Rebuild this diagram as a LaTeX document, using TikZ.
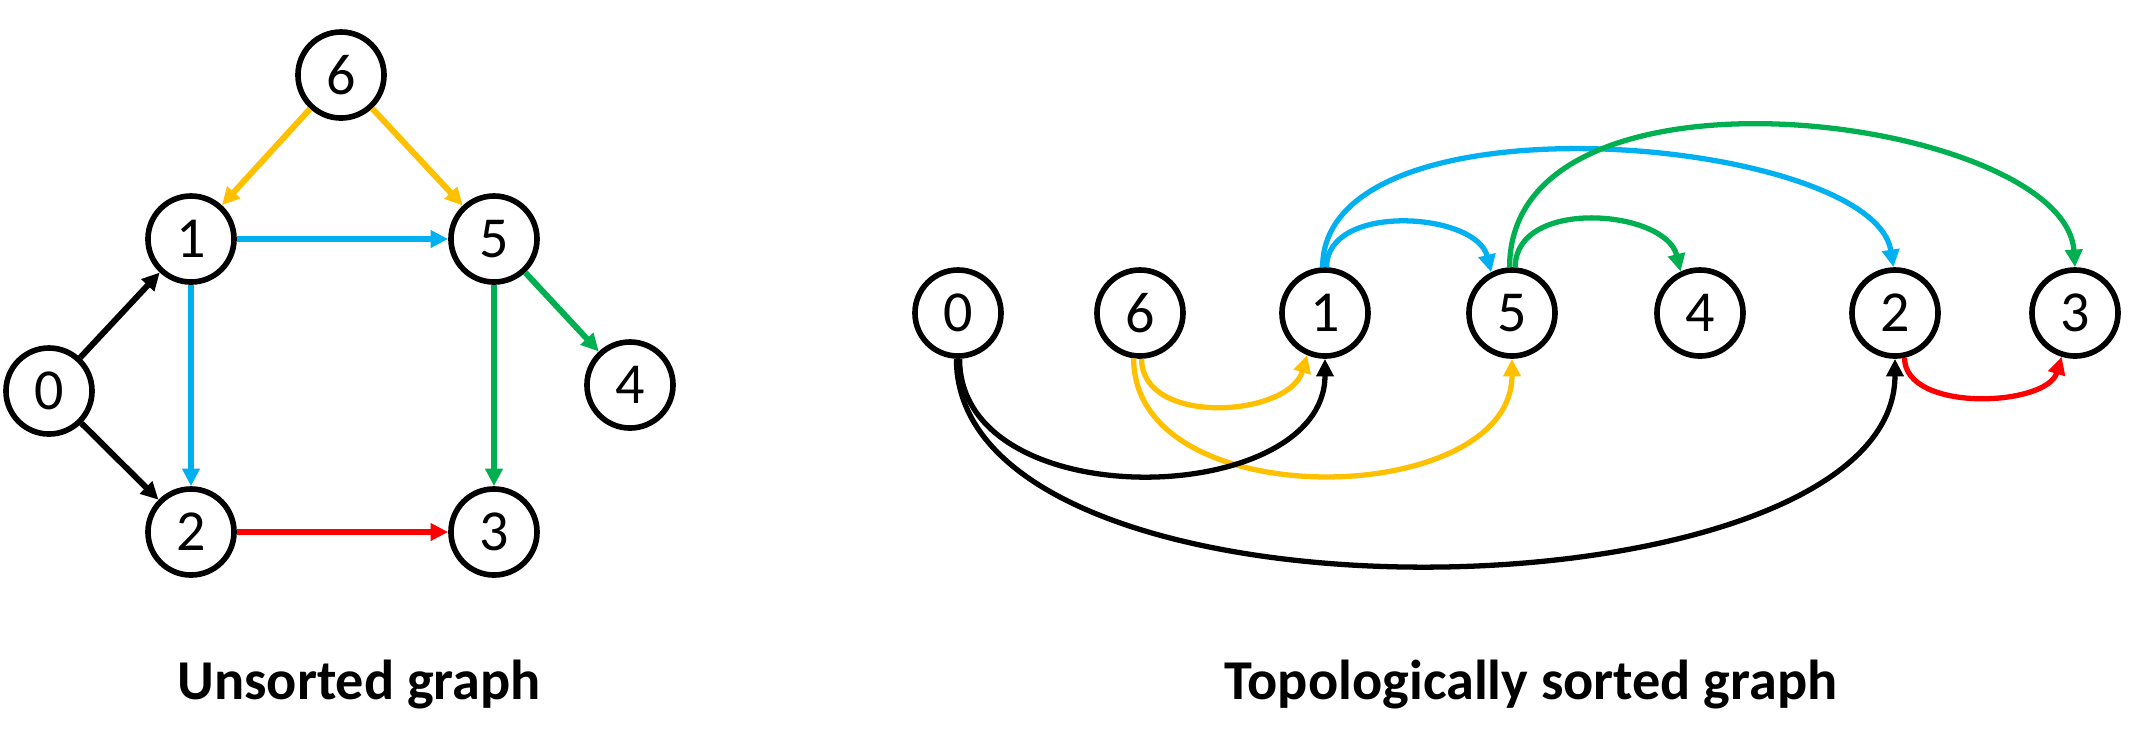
\documentclass[tikz,border=0pt]{standalone}
\usepackage{fontspec}
\setmainfont{Carlito}
\usetikzlibrary{arrows.meta}
\definecolor{cgold}{HTML}{FFC000}
\definecolor{ccyan}{HTML}{00B0F0}
\definecolor{cgreen}{HTML}{00B050}
\definecolor{cred}{HTML}{FF0000}
\begin{document}
\begin{tikzpicture}[x=0.01cm,y=-0.01cm,
  vertex/.style={circle,draw,line width=1.6pt,minimum size=0.86cm,inner sep=0pt,font=\fontsize{16.5}{18}\selectfont},
  edge/.style={line width=1.5pt,-{Triangle[length=5pt,width=4.8pt]}},
  ledge/.style={edge,line width=1.7pt},
  title/.style={font=\fontsize{16}{19}\selectfont\bfseries,anchor=base,inner sep=0pt}]
\useasboundingbox (0,0) rectangle (2138,753);
% left graph
\node[vertex] (L6) at (341,75) {6};
\node[vertex] (L1) at (191,239) {1};
\node[vertex] (L5) at (494,239) {5};
\node[vertex] (L0) at (49,391) {0};
\node[vertex] (L4) at (630,385) {4};
\node[vertex] (L2) at (191,532) {2};
\node[vertex] (L3) at (494,532) {3};
\draw[ledge,cgold] (L6) -- (L1);
\draw[ledge,cgold] (L6) -- (L5);
\draw[ledge,ccyan] (L1) -- (L5);
\draw[ledge,ccyan] (L1) -- (L2);
\draw[ledge,cgreen] (L5) -- (L4);
\draw[ledge,cgreen] (L5) -- (L3);
\draw[ledge] (L0) -- (L1);
\draw[ledge] (L0) -- (L2);
\draw[ledge,cred] (L2) -- (L3);
% right graph
\node[vertex] (R0) at (958,313) {0};
\node[vertex] (R6) at (1140,313) {6};
\node[vertex] (R1) at (1325,313) {1};
\node[vertex] (R5) at (1512,313) {5};
\node[vertex] (R4) at (1700,313) {4};
\node[vertex] (R2) at (1895,313) {2};
\node[vertex] (R3) at (2075,313) {3};
\draw[edge,ccyan] (R1.93) .. controls +(0,-180) and +(-20,-130) .. (R2.92);
\draw[edge,ccyan] (R1.88) .. controls +(0,-65) and +(-15,-60) .. (R5.117);
\draw[edge,cgreen] (R5.93) .. controls +(0,-225) and +(-10,-150) .. (R3.90);
\draw[edge,cgreen] (R5.86) .. controls +(0,-70) and +(-15,-62) .. (R4.115);
\draw[edge,cgold] (R6.272) .. controls +(0,68) and +(-18,62) .. (R1.247);
\draw[edge,cgold] (R6.262) .. controls +(0,160) and +(0,150) .. (R5.270);
\draw[edge] (R0.272) .. controls +(0,160) and +(0,150) .. (R1.270);
\draw[edge] (R0.268) .. controls +(0,285) and +(0,265) .. (R2.270);
\draw[edge,cred] (R2.282) .. controls +(0,55) and +(-15,50) .. (R3.253);
% titles
\node[title] (t1) at (359,699) {Unsorted graph};
\node[title] (t2) at (1531,699) {Topologically sorted graph};
\end{tikzpicture}
\end{document}
